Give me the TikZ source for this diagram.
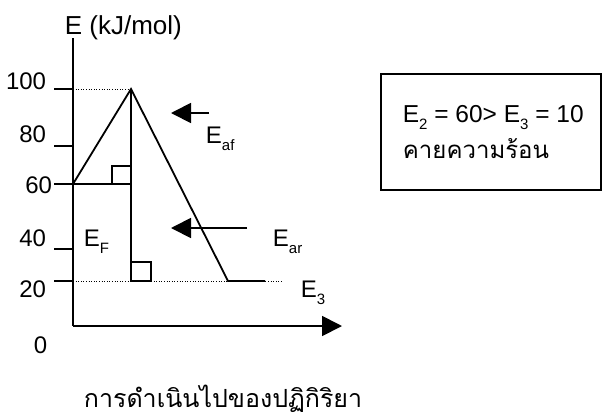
\documentclass[tikz,border=0pt]{standalone}
\usepackage{fontspec}
\setmainfont{Liberation Sans}
\newfontfamily\thaifont[Script=Thai]{Loma}
\usetikzlibrary{arrows.meta,positioning}
\newcommand{\subE}[1]{E\raisebox{-.32em}{\fontsize{15}{15}\selectfont #1}}

\begin{document}
\begin{tikzpicture}[x=1pt,y=-1pt,line width=1.8pt,
 every node/.style={inner sep=0pt,font=\fontsize{24}{24}\selectfont},
 dotline/.style={line width=1pt,dash pattern=on 1pt off 1.6pt},
 bigtip/.style={-{Triangle[length=20pt,width=20pt]}}]
\useasboundingbox (0,0) rectangle (602,416);
\coordinate (orig) at (73,326);
\coordinate (ytop) at (73,38);
\coordinate (xend) at (342,326);
\coordinate (react) at (73,184);
\coordinate (peak) at (131,89);
\coordinate (foot) at (131,281);
\coordinate (prod) at (228,281);
\coordinate (prodend) at (265,281);
\coordinate (dotend) at (282,281);
\draw (ytop) -- (orig);
\draw[bigtip] (orig) -- (xend);
\foreach \v/\lx/\yy/\yb in {100/47/89/89,80/47/146/142,60/53/184/193,40/47/249/246,20/47/281/297} {
 \draw (54,\yy) -- (73,\yy);
 \node[anchor=base east] (l\v) at (\lx,\yb) {\v};}
\node[anchor=base east] (l0) at (48,353) {0};
\node[anchor=base west,font=\fontsize{26}{26}\selectfont] (ylab) at (64,34) {E (kJ/mol)};
\draw[dotline] (ytop|-peak) -- (peak);
\draw[dotline] (ytop|-foot) -- (dotend);
\draw (react) -- (peak) -- (prod) -- (prodend);
\draw (react) -- (peak|-react);
\draw (peak) -- (foot);
\draw[line width=1.4pt] (peak|-react) rectangle ++(-19,-18);
\draw[line width=1.4pt] (foot) rectangle ++(20,-19);
\coordinate (afstart) at (209,113);
\coordinate (afend) at (171,113);
\coordinate (arstart) at (247,228);
\coordinate (arend) at (171,228);
\draw[bigtip] (afstart) -- (afend);
\draw[bigtip] (arstart) -- (arend);
\node[anchor=base west] (eaf) at (205,143) {\subE{af}};
\node[anchor=base west] (ear) at (272,246) {\subE{ar}};
\node[anchor=base west] (ef) at (83,246) {\subE{F}};
\node[anchor=base west] (e3) at (300,297) {\subE{3}};
\draw[line width=1.3pt] (381,74) rectangle (601,190);
\node[anchor=base west,font=\fontsize{24.5}{24.5}\selectfont] (cmp) at (402,122) {\subE{2} = 60> \subE{3} = 10};
\node[anchor=base west,font=\fontsize{24}{24}\thaifont] (heat) at (402,158) {คายความร้อน};
\node[anchor=base west,font=\fontsize{25}{25}\thaifont] (xlab) at (83,407) {การดำเนินไปของปฏิกิริยา};
\end{tikzpicture}
\end{document}
